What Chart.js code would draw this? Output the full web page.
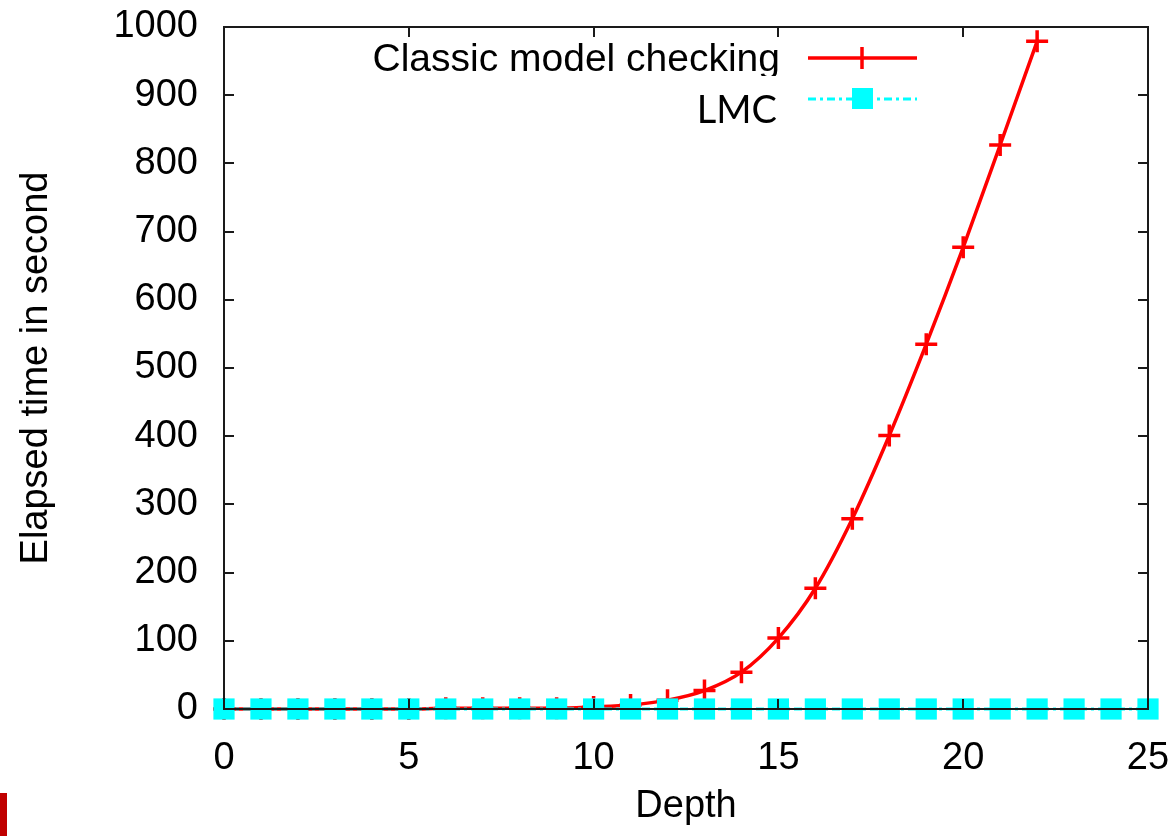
<!DOCTYPE html>
<html>
<head>
<meta charset="utf-8">
<script src="https://cdn.jsdelivr.net/npm/chart.js@4.4.1/dist/chart.umd.min.js"></script>
<style>
    html, body { margin: 0; padding: 0; background: #fff; }
    #wrap { position: relative; width: 1173px; height: 836px; }
    #mark { position: absolute; left: 0; top: 793px; width: 7px; height: 43px; background: #c00000; }
</style>
</head>
<body>
<div id="wrap">
    <canvas id="chart" width="1173" height="836"></canvas>
    <div id="mark"></div>
</div>
<script>
// data
const classicDepth = [0, 1, 2, 3, 4, 5, 6, 7, 8, 9, 10, 11, 12, 13, 14, 15, 16, 17, 18, 19, 20, 21, 22];
const classicTime = [0, 0, 0, 0, 0, 0, 1, 1, 1, 1, 3, 6, 13, 27, 54, 104, 177, 279, 401, 535, 677, 827, 979];
const lmcDepth = [0, 1, 2, 3, 4, 5, 6, 7, 8, 9, 10, 11, 12, 13, 14, 15, 16, 17, 18, 19, 20, 21, 22, 23, 24, 25];
const lmcTime = [0, 0, 0, 0, 0, 0, 0, 0, 0, 0, 0, 0, 0, 0, 0, 0, 0, 0, 0, 0, 0, 0, 0, 0, 0, 0];
const xTicks = [0, 5, 10, 15, 20, 25];
const yTicks = [0, 100, 200, 300, 400, 500, 600, 700, 800, 900, 1000];

const FONT = '"Liberation Sans", Arial, sans-serif';
const RED = '#ff0000';
const CYAN = '#00ffff';

// gnuplot style frame with inward ticks
const framePlugin = {
    id: 'frame',
    afterDatasetsDraw(chart) {
        const { ctx, chartArea: a, scales: { x, y } } = chart;
        ctx.save();
        ctx.strokeStyle = '#1a1a1a';
        ctx.lineWidth = 2;
        ctx.strokeRect(a.left, a.top, a.right - a.left, a.bottom - a.top);
        ctx.beginPath();
        yTicks.forEach(v => {
            const py = Math.round(y.getPixelForValue(v));
            ctx.moveTo(a.left, py); ctx.lineTo(a.left + 10, py);
            ctx.moveTo(a.right, py); ctx.lineTo(a.right - 10, py);
        });
        xTicks.forEach(v => {
            const px = Math.round(x.getPixelForValue(v));
            ctx.moveTo(px, a.bottom); ctx.lineTo(px, a.bottom - 10);
            ctx.moveTo(px, a.top); ctx.lineTo(px, a.top + 10);
        });
        ctx.stroke();
        ctx.restore();
    }
};

// legend drawn like the original: text first, sample after
const keyPlugin = {
    id: 'key',
    afterDraw(chart) {
        const ctx = chart.ctx;
        ctx.save();
        ctx.fillStyle = '#000';
        ctx.font = '39px ' + FONT;
        ctx.textAlign = 'right';
        ctx.textBaseline = 'middle';
        ctx.fillText('Classic model checking', 780, 60);
        // pasted-over box with the second label
        ctx.fillStyle = '#fff';
        ctx.fillRect(340, 76, 448, 60);
        ctx.fillStyle = '#000';
        ctx.font = '38px Lato, "Open Sans", sans-serif';
        ctx.fillText('LMC', 777, 111);

        // red sample
        ctx.strokeStyle = RED;
        ctx.lineWidth = 3.5;
        ctx.beginPath();
        ctx.moveTo(808, 58); ctx.lineTo(917, 58);
        ctx.moveTo(862, 47); ctx.lineTo(862, 69);
        ctx.stroke();
        // cyan sample
        ctx.strokeStyle = CYAN;
        ctx.lineWidth = 3;
        ctx.setLineDash([8, 4, 3, 4]);
        ctx.beginPath();
        ctx.moveTo(808, 99); ctx.lineTo(917, 99);
        ctx.stroke();
        ctx.setLineDash([]);
        ctx.fillStyle = CYAN;
        ctx.fillRect(852, 88, 21, 21);
        ctx.restore();
    }
};

new Chart(document.getElementById('chart'), {
    type: 'line',
    data: {
        datasets: [
            {
                label: 'Classic model checking',
                data: classicDepth.map((d, i) => ({ x: d, y: classicTime[i] })),
                borderColor: RED,
                backgroundColor: RED,
                borderWidth: 3.5,
                pointStyle: 'cross',
                pointRadius: 11,
                pointBorderWidth: 3.5,
                cubicInterpolationMode: 'monotone',
                order: 2,
                clip: false
            },
            {
                label: 'LMC',
                data: lmcDepth.map((d, i) => ({ x: d, y: lmcTime[i] })),
                borderColor: CYAN,
                backgroundColor: CYAN,
                borderWidth: 3,
                borderDash: [8, 4, 3, 4],
                pointStyle: 'rect',
                pointRadius: 15,
                pointBorderWidth: 0,
                order: 1,
                clip: false
            }
        ]
    },
    options: {
        responsive: false,
        animation: false,
        layout: { padding: { left: 0, top: 27, right: 25, bottom: 0 } },
        plugins: { legend: { display: false }, tooltip: { enabled: false } },
        scales: {
            x: {
                type: 'linear',
                min: 0,
                max: 25,
                afterFit: s => { s.height = 127; s.paddingLeft = 0; s.paddingRight = 0; },
                afterBuildTicks: s => { s.ticks = xTicks.map(v => ({ value: v })); },
                grid: { display: false, drawTicks: false },
                border: { display: false },
                ticks: { color: '#000', font: { family: FONT, size: 38 }, padding: 27, maxRotation: 0, callback: v => String(v) },
                title: { display: true, text: 'Depth', color: '#000', font: { family: FONT, size: 38 }, padding: { top: 0, bottom: 7 } }
            },
            y: {
                type: 'linear',
                min: 0,
                max: 1000,
                afterFit: s => { s.width = 224; s.paddingTop = 0; s.paddingBottom = 0; },
                afterBuildTicks: s => { s.ticks = yTicks.map(v => ({ value: v })); },
                grid: { display: false, drawTicks: false },
                border: { display: false },
                ticks: { color: '#000', font: { family: FONT, size: 38 }, padding: 26, callback: v => String(v) },
                title: { display: true, text: 'Elapsed time in second', color: '#000', font: { family: FONT, size: 38 }, padding: { top: 14, bottom: 0 } }
            }
        }
    },
    plugins: [framePlugin, keyPlugin]
});
</script>
</body>
</html>
